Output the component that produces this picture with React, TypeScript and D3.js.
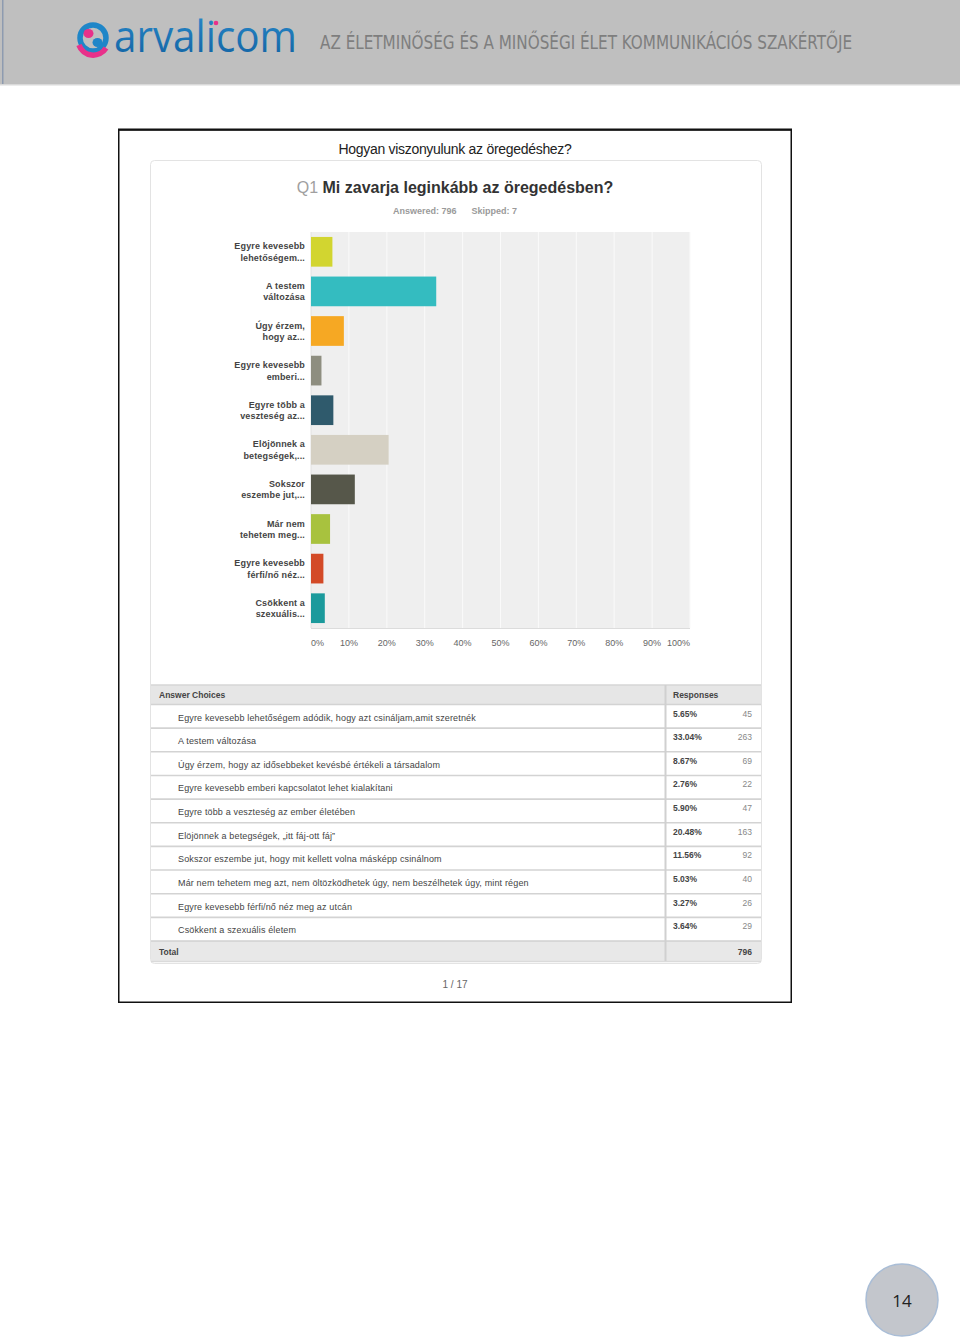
import React from "react";
import * as d3 from "d3";

const shortLabels = [
  "Egyre kevesebb|lehetőségem...",
  "A testem|változása",
  "Úgy érzem,|hogy az...",
  "Egyre kevesebb|emberi...",
  "Egyre több a|veszteség az...",
  "Elöjönnek a|betegségek,...",
  "Sokszor|eszembe jut,...",
  "Már nem|tehetem meg...",
  "Egyre kevesebb|férfi/nő néz...",
  "Csökkent a|szexuális...",
];
const answerChoices = [
  "Egyre kevesebb lehetőségem adódik, hogy azt csináljam,amit szeretnék",
  "A testem változása",
  "Úgy érzem, hogy az idősebbeket kevésbé értékeli a társadalom",
  "Egyre kevesebb emberi kapcsolatot lehet kialakítani",
  "Egyre több a veszteség az ember életében",
  "Elöjönnek a betegségek, „itt fáj-ott fáj”",
  "Sokszor eszembe jut, hogy mit kellett volna másképp csinálnom",
  "Már nem tehetem meg azt, nem öltözködhetek úgy, nem beszélhetek úgy, mint régen",
  "Egyre kevesebb férfi/nő néz meg az utcán",
  "Csökkent a szexuális életem",
];
const percents = [5.65, 33.04, 8.67, 2.76, 5.9, 20.48, 11.56, 5.03, 3.27, 3.64];
const counts = [45, 263, 69, 22, 47, 163, 92, 40, 26, 29];
const total = 796;
const skipped = 7;
const barColors = [
  "#d2d530", "#34bcc0", "#f6a823", "#8e8e80", "#2f5a6c",
  "#d5d0c3", "#56574a", "#a8c23e", "#d34a27", "#1b9a9c",
];
const xTicks = [0, 10, 20, 30, 40, 50, 60, 70, 80, 90, 100];

const SANS = "'Liberation Sans', Arial, Helvetica, sans-serif";

export default function App() {
  const x = d3.scaleLinear().domain([0, 100]).range([311, 690]);
  const y = d3
    .scaleBand<number>()
    .domain(d3.range(percents.length))
    .range([232, 628])
    .paddingInner(0.25)
    .paddingOuter(0.125);

  const rowTop = 704.5;
  const rowH = 23.65;
  const rowY = d3.scaleLinear().domain([0, 1]).range([rowTop, rowTop + rowH]);

  return (
    <svg
      width={960}
      height={1338}
      style={{ position: "absolute", left: 0, top: 0, display: "block", background: "#fff" }}
    >
      <defs>
        <linearGradient id="logoGrad" x1="0" y1="0" x2="0" y2="1">
          <stop offset="0" stopColor="#2b8fd0" />
          <stop offset="1" stopColor="#0f5e9e" />
        </linearGradient>
      </defs>
      {/* Header band */}
      <rect x={0} y={0} width={960} height={84} fill="#bfbfbf" />
      <rect x={2} y={0} width={1.5} height={84} fill="#8e9bb0" />
      <rect x={0} y={84} width={960} height={1.5} fill="#d9d9d9" />
      {/* Logo icon */}
      <g>
        <circle cx={93} cy={38} r={13} fill="none" stroke="#1f86c8" strokeWidth={5.5} />
        <path d="M 79 45 A 15 15 0 0 0 106 48" fill="none" stroke="#e8318a" strokeWidth={5.5} />
        <ellipse cx={88.5} cy={33.5} rx={5} ry={4.5} fill="#e8318a" />
        <ellipse cx={97.5} cy={42.5} rx={5} ry={4.5} fill="#1f86c8" />
      </g>
      <text
        x={114}
        y={52}
        fontFamily="'Open Sans', Lato, sans-serif"
        fontSize={44}
        fill="url(#logoGrad)"
        textLength={183}
        lengthAdjust="spacingAndGlyphs"
      >
        arvalicom
      </text>
      <circle cx={216} cy={23} r={2.3} fill="#e8318a" />
      <text
        x={320}
        y={49}
        fontFamily="'Liberation Sans Narrow', 'DejaVu Sans Condensed', sans-serif"
        fontSize={19}
        fill="#7e7e7e"
        textLength={532}
        lengthAdjust="spacingAndGlyphs"
      >
        AZ ÉLETMINŐSÉG ÉS A MINŐSÉGI ÉLET KOMMUNIKÁCIÓS SZAKÉRTŐJE
      </text>

      {/* Page frame */}
      <rect x={118.75} y={129.75} width={672.5} height={872.5} fill="#fff" stroke="#111" strokeWidth={1.5} />
      <rect x={118} y={128.5} width={674} height={2.2} fill="#111" />

      <text x={455} y={154} textAnchor="middle" fontFamily={SANS} fontSize={14} fill="#222" letterSpacing={-0.3}>
        Hogyan viszonyulunk az öregedéshez?
      </text>

      {/* Card */}
      <rect x={150.5} y={160.5} width={611} height={803} rx={4} fill="#fff" stroke="#e3e3e3" strokeWidth={1} />

      <text x={455} y={192.5} textAnchor="middle" fontFamily={SANS} fontSize={16} fontWeight="bold" fill="#333">
        <tspan fill="#a0a0a0" fontWeight="normal">Q1 </tspan>
        Mi zavarja leginkább az öregedésben?
      </text>
      <text x={455} y={214} textAnchor="middle" fontFamily={SANS} fontSize={9} fill="#9a9a9a" fontWeight="bold" style={{ whiteSpace: "pre" }}>
        {`Answered: ${total}      Skipped: ${skipped}`}
      </text>

      {/* Plot area */}
      <rect x={x(0)} y={232} width={x(100) - x(0)} height={396} fill="#efefef" />
      {xTicks.slice(1).map((t) => (
        <line key={t} x1={x(t)} x2={x(t)} y1={232} y2={628} stroke="#fafafa" strokeWidth={1} />
      ))}
      <line x1={x(0)} x2={x(100)} y1={628.5} y2={628.5} stroke="#dcdcdc" strokeWidth={1} />
      <line x1={x(0)} x2={x(0)} y1={232} y2={628} stroke="#e2e2e2" strokeWidth={1} />
      {percents.map((p, i) => (
        <rect key={i} x={x(0)} y={y(i)!} width={x(p) - x(0)} height={y.bandwidth()} fill={barColors[i]} />
      ))}
      {shortLabels.map((l, i) => {
        const lines = l.split("|");
        const cy = y(i)! + y.bandwidth() / 2;
        return (
          <text
            key={i}
            x={305}
            y={cy - 2.5}
            textAnchor="end"
            fontFamily={SANS}
            fontSize={9}
            fontWeight="bold"
            fill="#444"
            letterSpacing={0.15}
          >
            <tspan x={305} dy={0}>{lines[0]}</tspan>
            <tspan x={305} dy={11.5}>{lines[1]}</tspan>
          </text>
        );
      })}
      {xTicks.map((t, i) => (
        <text
          key={t}
          x={x(t)}
          y={646}
          textAnchor={i === 0 ? "start" : i === xTicks.length - 1 ? "end" : "middle"}
          fontFamily={SANS}
          fontSize={9}
          fill="#666"
        >
          {t}%
        </text>
      ))}

      {/* Table */}
      <rect x={151} y={685} width={610} height={19} fill="#e6e6e6" />
      <line x1={151} x2={761} y1={685} y2={685} stroke="#d6d6d6" strokeWidth={1.5} />
      <text x={159} y={697.5} fontFamily={SANS} fontSize={8.5} fontWeight="bold" fill="#444">
        Answer Choices
      </text>
      <text x={673} y={697.5} fontFamily={SANS} fontSize={8.5} fontWeight="bold" fill="#444">
        Responses
      </text>
      {answerChoices.map((a, i) => {
        const top = rowY(i);
        return (
          <g key={i}>
            <line x1={151} x2={761} y1={top} y2={top} stroke="#d3d3d3" strokeWidth={1.6} />
            <text x={178} y={top + 16} fontFamily={SANS} fontSize={9} fill="#444" letterSpacing={0.15}>
              {a}
            </text>
            <text x={673} y={top + 12} fontFamily={SANS} fontSize={8.5} fontWeight="bold" fill="#444">
              {percents[i].toFixed(2)}%
            </text>
            <text x={752} y={top + 12} textAnchor="end" fontFamily={SANS} fontSize={8.5} fill="#888">
              {counts[i]}
            </text>
          </g>
        );
      })}
      <rect x={151} y={rowY(10)} width={610} height={20} fill="#e8e8e8" />
      <line x1={151} x2={761} y1={rowY(10)} y2={rowY(10)} stroke="#d0d0d0" strokeWidth={1.6} />
      <line x1={151} x2={761} y1={rowY(10) + 20.5} y2={rowY(10) + 20.5} stroke="#dadada" strokeWidth={1.5} />
      <line x1={665.5} x2={665.5} y1={685} y2={rowY(10) + 20} stroke="#d0d0d0" strokeWidth={2} />
      <text x={159} y={rowY(10) + 13.5} fontFamily={SANS} fontSize={8.5} fontWeight="bold" fill="#444">
        Total
      </text>
      <text x={752} y={rowY(10) + 13.5} textAnchor="end" fontFamily={SANS} fontSize={8.5} fontWeight="bold" fill="#444">
        {total}
      </text>

      <text x={455} y={988} textAnchor="middle" fontFamily={SANS} fontSize={10} fill="#666">
        1 / 17
      </text>

      {/* Page number */}
      <circle cx={902} cy={1300} r={36} fill="#c3c6cc" stroke="#a9bdd6" strokeWidth={1.5} />
      <text x={902} y={1306.5} textAnchor="middle" fontFamily="'Open Sans', 'Liberation Sans', sans-serif" fontSize={17} fill="#222">
        14
      </text>
    </svg>
  );
}
